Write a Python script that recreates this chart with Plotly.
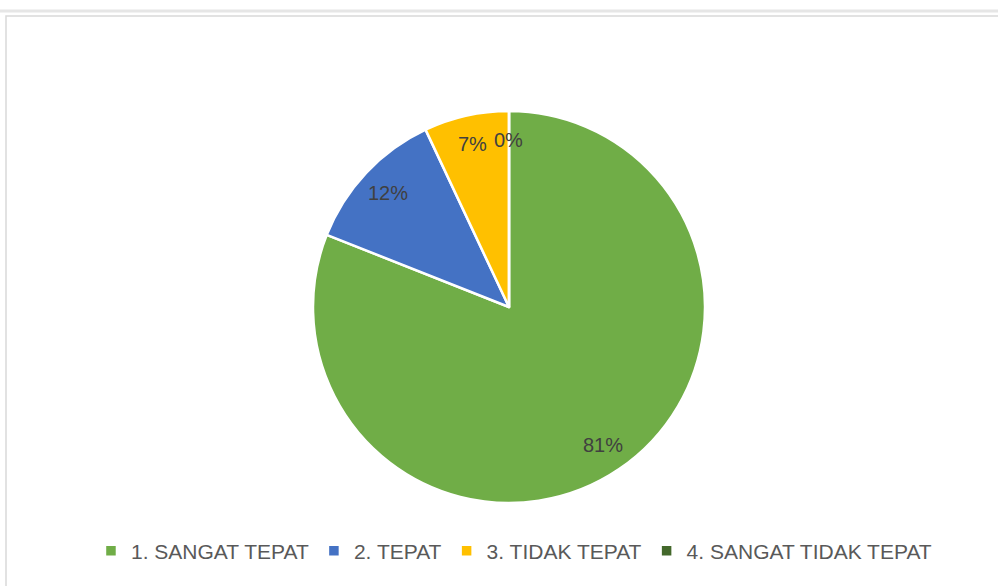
import math
import plotly.graph_objects as go

categories = ["1. SANGAT TEPAT", "2. TEPAT", "3. TIDAK TEPAT", "4. SANGAT TIDAK TEPAT"]
values = [81, 12, 7, 0]
colors = ["#70AD47", "#4472C4", "#FFC000", "#43682B"]

W, H = 998, 586
cx, cy, r = 509, 307, 196
FONT = "Liberation Sans, Arial, sans-serif"

fig = go.Figure(go.Pie(
    labels=categories,
    values=values,
    sort=False,
    direction="clockwise",
    rotation=0,
    marker=dict(colors=colors, line=dict(color="white", width=2.5)),
    textinfo="none",
    domain=dict(x=[(cx - r) / W, (cx + r) / W], y=[(H - cy - r) / H, (H - cy + r) / H]),
    hoverinfo="label+percent",
))

# Data labels (Excel style, placed near the outer part of each slice, computed from the values)
total = sum(values)
annotations = []
cum = 0.0
for v in values:
    mid = (cum + v / 2) / total * 2 * math.pi
    cum += v
    d = 0.85 * r
    px = cx + d * math.sin(mid)
    py = cy - d * math.cos(mid)
    annotations.append(dict(
        x=px / W, y=(H - py) / H, xref="paper", yref="paper",
        text=f"{round(v / total * 100)}%", showarrow=False,
        xanchor="center", yanchor="middle",
        font=dict(family=FONT, size=20, color="#404040"),
    ))

fig.update_layout(
    width=W, height=H,
    margin=dict(l=0, r=0, t=0, b=0),
    paper_bgcolor="white",
    showlegend=True,
    annotations=annotations,
    legend=dict(
        orientation="h", x=0.515, xanchor="center", y=(H - 551) / H, yanchor="middle",
        font=dict(family=FONT, size=21, color="#595959"),
        itemwidth=30, traceorder="normal",
    ),
    shapes=[
        dict(type="rect", xref="paper", yref="paper",
             x0=6 / W, x1=1.01, y0=-0.01, y1=(H - 16) / H,
             line=dict(color="#D9D9D9", width=1.5), fillcolor="rgba(0,0,0,0)"),
        dict(type="line", xref="paper", yref="paper",
             x0=0, x1=1, y0=(H - 11) / H, y1=(H - 11) / H,
             line=dict(color="#E6E6E6", width=3)),
    ],
)

fig.write_html("out.html")
